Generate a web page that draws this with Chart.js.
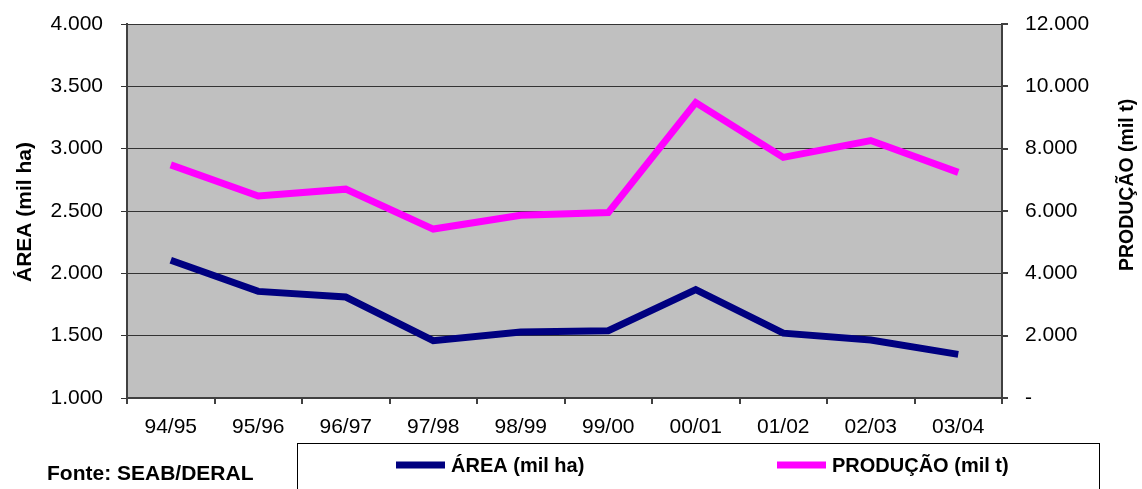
<!DOCTYPE html>
<html>
<head>
<meta charset="utf-8">
<script src="https://cdn.jsdelivr.net/npm/chart.js@4/dist/chart.umd.min.js"></script>
<style>
html, body { margin: 0; padding: 0; background: #fff; }
#wrap { position: relative; width: 1142px; height: 489px; }
</style>
</head>
<body>
<div id="wrap"><canvas id="chart" width="1142" height="489"></canvas></div>
<script>
// dados
const safras = ['94/95', '95/96', '96/97', '97/98', '98/99', '99/00', '00/01', '01/02', '02/03', '03/04'];
const area = [2105, 1855, 1810, 1460, 1530, 1540, 1870, 1520, 1465, 1350];
const producao = [7480, 6480, 6700, 5420, 5860, 5950, 9480, 7720, 8260, 7240];
const areaTicks = [1000, 1500, 2000, 2500, 3000, 3500, 4000];
const prodTicks = [0, 2000, 4000, 6000, 8000, 10000, 12000];

const tituloArea = 'ÁREA (mil ha)';
const tituloProd = 'PRODUÇÃO (mil t)';
const fonte = 'Fonte: SEAB/DERAL';

function fmt(v) {
    if (v === 0) return '-';
    return String(v).replace(/\B(?=(\d{3})+(?!\d))/g, '.');
}

const FONT = "'Liberation Sans', Arial, sans-serif";

// fundo cinza da area de plotagem
const fundo = {
    id: 'fundo',
    beforeDraw(chart) {
        const ctx = chart.ctx;
        const a = chart.chartArea;
        ctx.save();
        ctx.fillStyle = '#ffffff';
        ctx.fillRect(0, 0, chart.width, chart.height);
        ctx.fillStyle = '#c0c0c0';
        ctx.fillRect(a.left, a.top, a.right - a.left, a.bottom - a.top);
        ctx.restore();
    }
};

// titulos dos eixos, legenda e fonte
const textos = {
    id: 'textos',
    afterDraw(chart) {
        const ctx = chart.ctx;
        ctx.save();
        ctx.fillStyle = '#000';
        ctx.textAlign = 'center';
        ctx.textBaseline = 'middle';

        ctx.save();
        ctx.font = 'bold 21px ' + FONT;
        ctx.translate(25, 212);
        ctx.rotate(-Math.PI / 2);
        ctx.fillText(tituloArea, 0, 0);
        ctx.restore();

        ctx.save();
        ctx.font = 'bold 19.5px ' + FONT;
        ctx.translate(1128, 185);
        ctx.rotate(-Math.PI / 2);
        ctx.fillText(tituloProd, 0, 0);
        ctx.restore();

        ctx.textAlign = 'left';
        ctx.font = 'bold 21px ' + FONT;
        ctx.fillText(fonte, 47, 474);

        // caixa da legenda
        ctx.strokeStyle = '#000';
        ctx.lineWidth = 1;
        ctx.strokeRect(297.5, 443.5, 802, 60);

        ctx.font = 'bold 20px ' + FONT;
        const lx = [396, 777];
        chart.data.datasets.forEach(function (ds, i) {
            ctx.strokeStyle = ds.borderColor;
            ctx.lineWidth = 7;
            ctx.beginPath();
            ctx.moveTo(lx[i], 465);
            ctx.lineTo(lx[i] + 49, 465);
            ctx.stroke();
            ctx.fillStyle = '#000';
            ctx.fillText(ds.label, lx[i] + 55, 466);
        });
        ctx.restore();
    }
};

const ctx = document.getElementById('chart').getContext('2d');
const myChart = new Chart(ctx, {
    type: 'line',
    data: {
        labels: safras,
        datasets: [{
            label: tituloArea,
            data: area,
            yAxisID: 'y',
            borderColor: '#000080',
            backgroundColor: '#000080',
            borderWidth: 7,
            pointRadius: 0,
            borderCapStyle: 'butt',
            borderJoinStyle: 'miter',
            tension: 0
        }, {
            label: tituloProd,
            data: producao,
            yAxisID: 'y1',
            borderColor: '#ff00ff',
            backgroundColor: '#ff00ff',
            borderWidth: 7,
            pointRadius: 0,
            borderCapStyle: 'butt',
            borderJoinStyle: 'miter',
            tension: 0
        }]
    },
    options: {
        responsive: false,
        animation: false,
        devicePixelRatio: 1,
        layout: { padding: { top: 24, left: 0, right: 0, bottom: 0 } },
        plugins: {
            legend: { display: false },
            tooltip: { enabled: false }
        },
        scales: {
            x: {
                offset: true,
                grid: {
                    offset: true,
                    drawOnChartArea: false,
                    drawTicks: true,
                    tickLength: 6,
                    color: '#404040',
                    lineWidth: 2
                },
                border: { color: '#404040', width: 2 },
                ticks: {
                    color: '#000',
                    font: { family: FONT, size: 21 },
                    padding: 11,
                    maxRotation: 0,
                    autoSkip: false
                },
                afterFit(s) { s.height = 91; s.paddingLeft = 0; s.paddingRight = 0; }
            },
            y: {
                position: 'left',
                min: areaTicks[0],
                max: areaTicks[areaTicks.length - 1],
                afterBuildTicks(s) { s.ticks = areaTicks.map(v => ({ value: v })); },
                grid: {
                    color: '#333333',
                    lineWidth: 1,
                    tickLength: 6
                },
                border: { color: '#404040', width: 2 },
                ticks: {
                    color: '#000',
                    font: { family: FONT, size: 21 },
                    padding: 18,
                    callback: v => fmt(v)
                },
                afterFit(s) { s.width = 127; s.paddingTop = 0; s.paddingBottom = 0; }
            },
            y1: {
                position: 'right',
                min: prodTicks[0],
                max: prodTicks[prodTicks.length - 1],
                afterBuildTicks(s) { s.ticks = prodTicks.map(v => ({ value: v })); },
                grid: {
                    drawOnChartArea: false,
                    color: '#404040',
                    lineWidth: 2,
                    tickLength: 6
                },
                border: { color: '#404040', width: 2 },
                ticks: {
                    color: '#000',
                    font: { family: FONT, size: 21 },
                    padding: 17,
                    callback: v => fmt(v)
                },
                afterFit(s) { s.width = 140; s.paddingTop = 0; s.paddingBottom = 0; }
            }
        }
    },
    plugins: [fundo, textos]
});
</script>
</body>
</html>
